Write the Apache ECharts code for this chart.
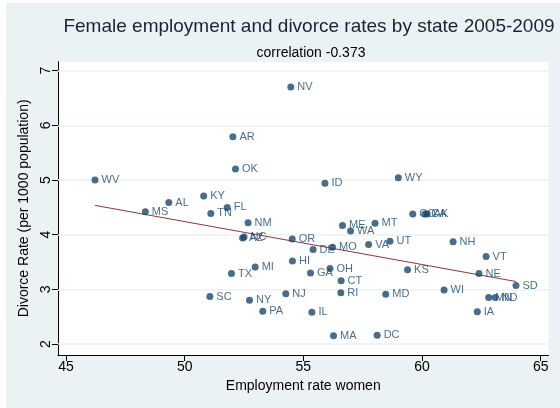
<!DOCTYPE html>
<html>
<head>
<meta charset="utf-8">
<script src="https://cdn.jsdelivr.net/npm/echarts@6/dist/echarts.min.js"></script>
<style>
  html, body { margin: 0; padding: 0; background: #fff; }
  #wrap { position: relative; width: 560px; height: 408px; }
  #bg { position: absolute; left: 6px; top: 3px; right: 0; bottom: 0; background: #eaf2f3; }
  #chart { position: absolute; left: 0; top: 0; width: 560px; height: 408px; }
</style>
</head>
<body>
<div id="wrap">
  <div id="bg"></div>
  <div id="chart"></div>
</div>
<script>
// state codes, employment rate of women (%), divorce rate per 1000
const states = ['NV', 'AR', 'OK', 'WV', 'ID', 'WY', 'KY', 'AL', 'FL', 'MS', 'TN', 'NM', 'AZ', 'NC',
  'OR', 'DE', 'MO', 'ME', 'WA', 'MT', 'VA', 'UT', 'CO', 'CA', 'AK', 'NH', 'VT', 'KS', 'NE', 'SD',
  'HI', 'MI', 'TX', 'GA', 'OH', 'CT', 'RI', 'SC', 'NY', 'NJ', 'PA', 'IL', 'MA', 'DC', 'MD', 'WI',
  'IA', 'MN', 'ND']
const employment = [54.47, 52.03, 52.14, 46.22, 55.91, 59.00, 50.80, 49.33, 51.79, 48.34, 51.10, 52.67, 52.44, 52.50,
  54.53, 55.41, 56.23, 56.65, 56.99, 58.02, 57.75, 58.65, 59.61, 60.12, 60.22, 61.31, 62.70, 59.39, 62.40, 63.96,
  54.54, 52.97, 51.97, 55.30, 56.12, 56.59, 56.58, 51.06, 52.73, 54.26, 53.29, 55.36, 56.27, 58.11, 58.47, 60.93,
  62.33, 62.81, 63.08]
const divorce = [6.70, 5.79, 5.20, 5.00, 4.94, 5.04, 4.71, 4.59, 4.50, 4.42, 4.39, 4.22, 3.94, 3.96,
  3.92, 3.73, 3.77, 4.17, 4.07, 4.21, 3.82, 3.88, 4.38, 4.38, 4.38, 3.87, 3.60, 3.36, 3.29, 3.07,
  3.52, 3.41, 3.29, 3.30, 3.38, 3.16, 2.94, 2.87, 2.80, 2.92, 2.60, 2.58, 2.15, 2.16, 2.91, 2.99,
  2.59, 2.85, 2.85]
const xTicks = [45, 50, 55, 60, 65]
const yTicks = [2, 3, 4, 5, 6, 7]

const navy = '#1a476f'
const maroon = '#90353b'

// linear fit (ols) over the data range
function fitLine() {
  const n = employment.length
  const mx = employment.reduce((a, b) => a + b, 0) / n
  const my = divorce.reduce((a, b) => a + b, 0) / n
  let sxy = 0, sxx = 0
  for (let i = 0; i < n; i++) {
    sxy += (employment[i] - mx) * (divorce[i] - my)
    sxx += (employment[i] - mx) ** 2
  }
  const b = sxy / sxx
  const a = my - b * mx
  const x0 = Math.min(...employment)
  const x1 = Math.max(...employment)
  return [[x0, a + b * x0], [x1, a + b * x1]]
}

const chart = echarts.init(document.getElementById('chart'), null, { renderer: 'canvas' })
const font = 'Arial, "Liberation Sans", sans-serif'

chart.setOption({
  backgroundColor: 'transparent',
  animation: false,
  textStyle: { fontFamily: font },
  title: [
    {
      text: 'Female employment and divorce rates by state 2005-2009',
      left: 304, top: 12, textAlign: 'center',
      textStyle: { fontSize: 19, fontWeight: 'normal', color: '#1a2333', fontFamily: font }
    },
    {
      text: 'correlation -0.373',
      left: 306, top: 41, textAlign: 'center',
      textStyle: { fontSize: 14, fontWeight: 'normal', color: '#000', fontFamily: font }
    }
  ],
  grid: {
    left: 58, right: 11.5, top: 61.7, bottom: 53,
    show: true, backgroundColor: '#fff', borderWidth: 0, z: 0
  },
  xAxis: {
    type: 'value',
    min: 44.66, max: 65.33,
    name: 'Employment rate women',
    nameLocation: 'middle', nameGap: 24,
    nameTextStyle: { fontSize: 14, color: '#000', fontFamily: font },
    axisLine: { onZero: false, lineStyle: { color: '#000', width: 1 } },
    axisTick: { show: true, length: 6, customValues: xTicks, lineStyle: { color: '#000' } },
    axisLabel: { customValues: xTicks, fontSize: 14, color: '#000', margin: 5, fontFamily: font },
    splitLine: { show: false }
  },
  yAxis: {
    type: 'value',
    min: 1.8, max: 7.165,
    name: 'Divorce Rate (per 1000 population)',
    nameLocation: 'middle', nameGap: 24, nameRotate: 90,
    nameTextStyle: { fontSize: 14, color: '#000', fontFamily: font },
    axisLine: { onZero: false, lineStyle: { color: '#000', width: 1 } },
    axisTick: { show: true, length: 6, customValues: yTicks, lineStyle: { color: '#000' } },
    axisLabel: { customValues: yTicks, fontSize: 14, color: '#000', margin: 5, rotate: 90, fontFamily: font },
    splitLine: { show: false }
  },
  series: [
    {
      // horizontal grid lines at the y ticks, kept under the marks
      type: 'line',
      data: [],
      silent: true,
      z: 1,
      markLine: {
        silent: true,
        z: 1,
        symbol: 'none',
        label: { show: false },
        lineStyle: { color: '#eaf2f3', width: 1.5, type: 'solid' },
        data: yTicks.map(v => ({ yAxis: v }))
      }
    },
    {
      type: 'line',
      data: fitLine(),
      symbol: 'none',
      lineStyle: { color: maroon, width: 1 },
      z: 3
    },
    {
      type: 'scatter',
      data: employment.map((x, i) => [x, divorce[i], states[i]]),
      symbolSize: 7,
      itemStyle: { color: navy },
      label: {
        show: true,
        position: 'right',
        distance: 3,
        formatter: p => p.value[2],
        fontSize: 11,
        color: navy,
        fontFamily: font
      },
      labelLayout: { hideOverlap: false },
      z: 5
    }
  ]
})
</script>
</body>
</html>
